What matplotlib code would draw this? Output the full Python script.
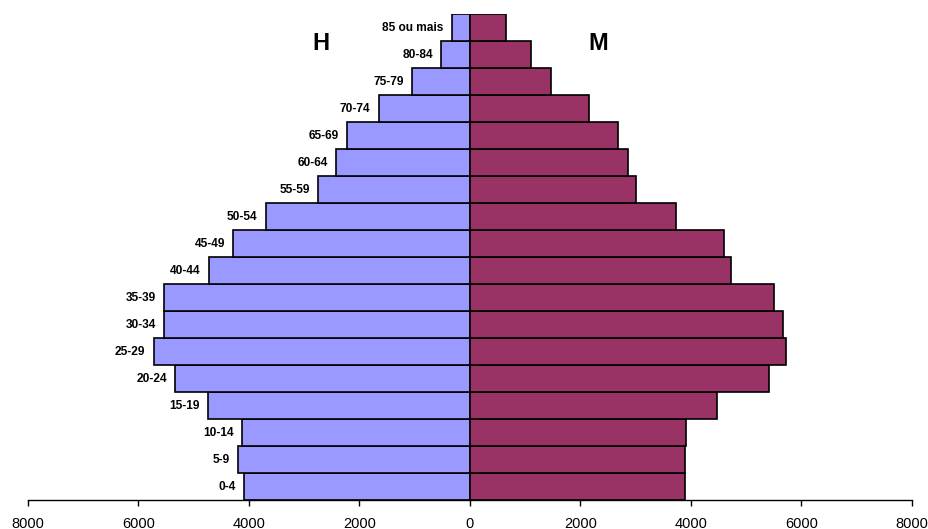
import numpy as np
import matplotlib.pyplot as plt
from matplotlib.ticker import FuncFormatter

plt.rcParams['font.family'] = ['Liberation Sans', 'DejaVu Sans']

# age groups, youngest first
ages = ['0-4', '5-9', '10-14', '15-19', '20-24', '25-29', '30-34', '35-39', '40-44',
        '45-49', '50-54', '55-59', '60-64', '65-69', '70-74', '75-79', '80-84', '85 ou mais']
homens = [4085, 4194, 4121, 4739, 5333, 5721, 5533, 5533, 4721,
          4285, 3691, 2751, 2424, 2224, 1648, 1048, 521, 333]
mulheres = [3885, 3885, 3915, 4467, 5406, 5715, 5673, 5503, 4733,
            4606, 3727, 3012, 2867, 2679, 2151, 1473, 1103, 655]

y = np.arange(len(ages))

fig = plt.figure(figsize=(9.29, 5.29), dpi=100)
ax = fig.add_axes([0.0301, 0.0548, 0.9516, 0.9187])

ax.barh(y, -np.array(homens), height=1.0, color='#9999FF', edgecolor='black', linewidth=1.2)
ax.barh(y, mulheres, height=1.0, color='#993366', edgecolor='black', linewidth=1.2)

# age labels just left of the men's bars
for yi, h, lab in zip(y, homens, ages):
    ax.annotate(lab, (-h, yi), xytext=(-6, 0), textcoords='offset points',
                ha='right', va='center', fontsize=8.6, fontweight='bold')

ax.text(-2700, 16.4, 'H', ha='center', va='center', fontsize=17, fontweight='bold')
ax.text(2330, 16.4, 'M', ha='center', va='center', fontsize=17, fontweight='bold')

ax.set_xlim(-8000, 8000)
ax.set_ylim(-0.5, len(ages) - 0.5)
ax.set_xticks(np.arange(-8000, 8001, 2000))
ax.xaxis.set_major_formatter(FuncFormatter(lambda v, p: '%d' % abs(v)))
ax.tick_params(axis='x', direction='out', length=4, width=1, labelsize=10.5, pad=8)
ax.set_yticks([])
for s in ['top', 'left', 'right']:
    ax.spines[s].set_visible(False)
ax.spines['bottom'].set_linewidth(1)

fig.savefig('out.png', dpi=100)
